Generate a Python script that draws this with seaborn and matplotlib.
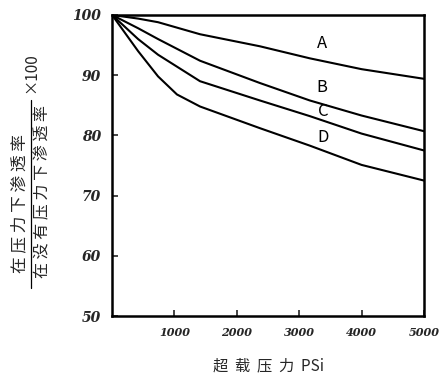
import numpy as np
import pandas as pd
import matplotlib
matplotlib.use('Agg')
import matplotlib.pyplot as plt
import seaborn as sns

# curve readings (overload pressure PSi -> permeability ratio x100)
x_a = [0, 417, 737, 1410, 2370, 3170, 4000, 5000]
y_a = [100, 99.4, 98.8, 96.8, 94.8, 92.8, 91.0, 89.4]
x_b = [0, 417, 737, 1410, 2370, 3170, 4000, 5000]
y_b = [100, 97.8, 96.0, 92.4, 88.7, 85.8, 83.3, 80.7]
x_c = [0, 417, 737, 1410, 2370, 3170, 4000, 5000]
y_c = [100, 96.0, 93.4, 89.0, 85.8, 83.2, 80.3, 77.5]
x_d = [0, 417, 737, 1040, 1410, 2370, 3170, 4000, 5000]
y_d = [100, 94.0, 89.8, 86.8, 84.8, 81.2, 78.3, 75.1, 72.5]
curve_names = ['A', 'B', 'C', 'D']
label_pos = [(3365, 95.3), (3365, 88.0), (3380, 83.9), (3380, 79.7)]

xticks = [1000, 2000, 3000, 4000, 5000]
yticks = [50, 60, 70, 80, 90, 100]

frames = []
for name, xs, ys in zip(curve_names, [x_a, x_b, x_c, x_d], [y_a, y_b, y_c, y_d]):
    frames.append(pd.DataFrame({'psi': xs, 'ratio': ys, 'curve': name}))
df = pd.concat(frames, ignore_index=True)

sns.set_style('ticks')
plt.rcParams['font.family'] = ['Noto Sans CJK SC', 'DejaVu Sans']

fig = plt.figure(figsize=(4.43, 3.84), dpi=100)
ax = fig.add_axes([0.253, 0.177, 0.704, 0.784])

sns.lineplot(data=df, x='psi', y='ratio', hue='curve', palette=['black'] * 4,
             linewidth=1.5, legend=False, ax=ax)

ax.set_xlim(0, 5000)
ax.set_ylim(50, 100)
ax.set_xticks(xticks)
ax.set_yticks(yticks)
ax.set_xticklabels([str(v) for v in xticks], fontstyle='italic', fontweight='bold',
                   fontsize=8, family='DejaVu Serif')
ax.set_yticklabels([str(v) for v in yticks], fontstyle='italic', fontweight='bold',
                   fontsize=10, family='DejaVu Serif')
ax.tick_params(direction='in', length=4, width=1.2, pad=8)
for sp in ax.spines.values():
    sp.set_visible(True)
    sp.set_linewidth(1.8)
    sp.set_color('black')

for name, (lx, ly) in zip(curve_names, label_pos):
    ax.text(lx, ly, name, fontsize=12, ha='center', va='center', color='black')

ax.set_xlabel('超  载  压  力  PSi', fontsize=11, labelpad=14)
ax.set_ylabel('')

# fraction-style y label
fig.text(0.045, 0.47, '在 压 力 下 渗 透 率', rotation=90, ha='center', va='center', fontsize=12)
fig.text(0.097, 0.50, '在 没 有 压 力 下 渗 透 率', rotation=90, ha='center', va='center', fontsize=11.5)
fig.add_artist(plt.Line2D([0.07, 0.07], [0.25, 0.74], transform=fig.transFigure,
                          color='black', linewidth=0.9))
fig.text(0.07, 0.81, '×100', rotation=90, ha='center', va='center', fontsize=11)

fig.savefig('out.png', dpi=100)
